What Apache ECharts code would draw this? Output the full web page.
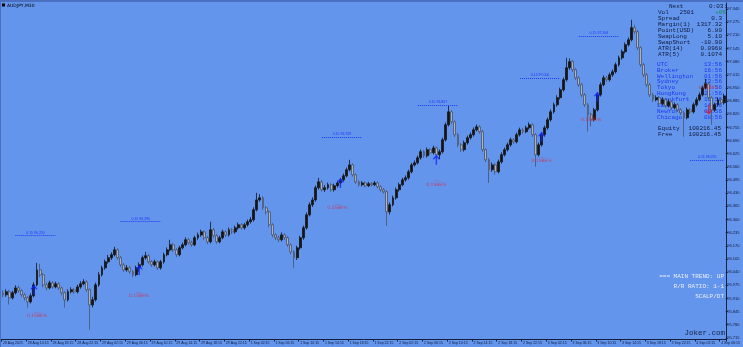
<!DOCTYPE html>
<html><head><meta charset="utf-8">
<script src="https://cdn.jsdelivr.net/npm/echarts@6/dist/echarts.min.js"></script>
<style>html,body{margin:0;padding:0;background:#6495ED;overflow:hidden}#c{width:743px;height:347px}</style>
</head><body><div id="c"></div>
<script>
// ---------- DATA ----------
const symbolTitle = 'AUDJPY,M30';
const tickLabels = ['28 Aug 2025','28 Aug 14:15','28 Aug 18:15','28 Aug 22:15','29 Aug 02:15','29 Aug 06:15','29 Aug 10:15','29 Aug 14:15','29 Aug 18:15','29 Aug 22:15','1 Sep 02:15','1 Sep 06:15','1 Sep 10:15','1 Sep 14:15','1 Sep 18:15','1 Sep 22:15','2 Sep 02:15','2 Sep 06:15','2 Sep 10:15','2 Sep 14:15','2 Sep 18:15','2 Sep 22:15','3 Sep 02:15','3 Sep 06:15','3 Sep 10:15','3 Sep 14:15','3 Sep 18:15','3 Sep 22:15','4 Sep 02:15','4 Sep 06:15'];
const barsPerLabel = 8;
const yTicks = [97.340,97.275,97.210,97.145,97.080,97.015,96.950,96.885,96.820,96.755,96.690,96.625,96.560,96.495,96.430,96.365,96.300,96.235,96.170,96.105,96.040,95.975,95.910,95.845,95.780,95.715];

const opens = [95.935,95.928,95.943,95.913,95.938,95.962,95.948,95.928,95.913,95.893,
95.923,95.977,96.051,96.027,95.977,95.962,95.987,95.967,95.982,95.962,
95.938,95.903,95.943,95.953,95.943,95.967,95.982,95.992,95.953,95.878,
95.903,95.977,96.027,96.061,96.091,96.111,96.126,96.150,96.111,96.076,
96.051,96.061,96.042,96.027,96.061,96.076,96.111,96.121,96.091,96.076,
96.091,96.061,96.091,96.126,96.150,96.175,96.150,96.126,96.160,96.175,
96.200,96.185,96.175,96.210,96.224,96.239,96.210,96.190,96.249,96.220,
96.190,96.210,96.239,96.224,96.249,96.239,96.259,96.274,96.259,96.274,
96.289,96.299,96.348,96.397,96.407,96.358,96.338,96.274,96.224,96.210,
96.200,96.224,96.210,96.175,96.140,96.111,96.160,96.210,96.259,96.323,
96.373,96.397,96.457,96.486,96.447,96.457,96.472,96.447,96.467,96.481,
96.496,96.516,96.546,96.570,96.521,96.486,96.472,96.481,96.467,96.477,
96.472,96.481,96.462,96.447,96.437,96.338,96.373,96.407,96.447,96.472,
96.496,96.506,96.536,96.570,96.580,96.605,96.635,96.615,96.645,96.630,
96.654,96.620,96.635,96.694,96.768,96.832,96.783,96.719,96.669,96.645,
96.679,96.704,96.719,96.743,96.758,96.734,96.645,96.595,96.546,96.570,
96.536,96.585,96.620,96.645,96.669,96.694,96.684,96.719,96.743,96.734,
96.753,96.768,96.719,96.620,96.669,96.719,96.753,96.793,96.832,96.867,
96.902,96.941,96.991,97.050,97.080,97.040,97.000,96.966,96.916,96.867,
96.818,96.793,96.842,96.916,96.966,97.000,96.991,97.015,97.030,97.065,
97.099,97.129,97.164,97.188,97.248,97.228,97.149,97.065,97.015,96.966,
96.916,96.892,96.902,96.872,96.892,96.862,96.882,96.852,96.867,96.842,
96.827,96.803,96.842,96.832,96.867,96.892,96.916,96.951,96.971,96.902,
96.842,96.867,96.892,96.877];

const closes = [95.928,95.943,95.913,95.938,95.962,95.948,95.928,95.913,95.893,95.923,
95.977,96.051,96.027,95.977,95.962,95.987,95.967,95.982,95.962,95.938,
95.903,95.943,95.953,95.943,95.967,95.982,95.992,95.953,95.878,95.903,
95.977,96.027,96.061,96.091,96.111,96.126,96.150,96.111,96.076,96.051,
96.061,96.042,96.027,96.061,96.076,96.111,96.121,96.091,96.076,96.091,
96.061,96.091,96.126,96.150,96.175,96.150,96.126,96.160,96.175,96.200,
96.185,96.175,96.210,96.224,96.239,96.210,96.190,96.249,96.220,96.190,
96.210,96.239,96.224,96.249,96.239,96.259,96.274,96.259,96.274,96.289,
96.299,96.348,96.397,96.407,96.358,96.338,96.274,96.224,96.210,96.200,
96.224,96.210,96.175,96.140,96.111,96.160,96.210,96.259,96.323,96.373,
96.397,96.457,96.486,96.447,96.457,96.472,96.447,96.467,96.481,96.496,
96.516,96.546,96.570,96.521,96.486,96.472,96.481,96.467,96.477,96.472,
96.481,96.462,96.447,96.437,96.338,96.373,96.407,96.447,96.472,96.496,
96.506,96.536,96.570,96.580,96.605,96.635,96.615,96.645,96.630,96.654,
96.620,96.635,96.694,96.768,96.832,96.783,96.719,96.669,96.645,96.679,
96.704,96.719,96.743,96.758,96.734,96.645,96.595,96.546,96.570,96.536,
96.585,96.620,96.645,96.669,96.694,96.684,96.719,96.743,96.734,96.753,
96.768,96.719,96.620,96.669,96.719,96.753,96.793,96.832,96.867,96.902,
96.941,96.991,97.050,97.080,97.040,97.000,96.966,96.916,96.867,96.818,
96.793,96.842,96.916,96.966,97.000,96.991,97.015,97.030,97.065,97.099,
97.129,97.164,97.188,97.248,97.228,97.149,97.065,97.015,96.966,96.916,
96.892,96.902,96.872,96.892,96.862,96.882,96.852,96.867,96.842,96.827,
96.803,96.842,96.832,96.867,96.892,96.916,96.951,96.971,96.902,96.842,
96.867,96.892,96.877,96.911];

const highs = [95.950,95.955,95.952,95.948,95.975,95.972,95.955,95.937,95.920,95.935,
95.990,96.086,96.081,96.035,95.988,95.998,95.996,95.993,95.990,95.968,
95.945,95.955,95.965,95.962,95.978,95.995,96.005,96.000,95.960,95.918,
95.988,96.040,96.072,96.102,96.125,96.138,96.165,96.158,96.120,96.085,
96.075,96.070,96.050,96.072,96.088,96.122,96.140,96.130,96.100,96.102,
96.098,96.100,96.136,96.162,96.200,96.185,96.158,96.170,96.186,96.212,
96.208,96.195,96.220,96.235,96.250,96.246,96.218,96.289,96.258,96.228,
96.220,96.250,96.246,96.260,96.258,96.270,96.285,96.282,96.284,96.300,
96.312,96.360,96.432,96.425,96.415,96.366,96.345,96.282,96.232,96.220,
96.236,96.232,96.218,96.182,96.148,96.170,96.220,96.270,96.335,96.385,
96.410,96.468,96.506,96.495,96.470,96.482,96.480,96.477,96.492,96.506,
96.527,96.557,96.595,96.578,96.528,96.494,96.490,96.488,96.486,96.485,
96.490,96.488,96.470,96.455,96.444,96.385,96.418,96.458,96.482,96.506,
96.518,96.546,96.580,96.592,96.616,96.646,96.643,96.656,96.652,96.665,
96.660,96.646,96.705,96.780,96.862,96.840,96.790,96.728,96.678,96.690,
96.715,96.730,96.755,96.770,96.766,96.742,96.652,96.604,96.582,96.578,
96.596,96.632,96.656,96.680,96.705,96.702,96.730,96.754,96.752,96.764,
96.780,96.776,96.726,96.680,96.730,96.764,96.804,96.844,96.878,96.914,
96.952,97.002,97.099,97.096,97.088,97.048,97.008,96.975,96.925,96.876,
96.828,96.852,96.928,96.978,97.012,97.010,97.026,97.042,97.076,97.110,
97.140,97.175,97.200,97.287,97.262,97.236,97.156,97.074,97.024,96.975,
96.926,96.914,96.910,96.904,96.900,96.894,96.890,96.878,96.875,96.850,
96.836,96.854,96.850,96.878,96.904,96.928,96.962,96.995,96.980,96.910,
96.878,96.904,96.900,96.922];

const lows = [95.915,95.918,95.880,95.905,95.930,95.938,95.918,95.900,95.864,95.885,
95.915,95.970,96.015,95.965,95.950,95.955,95.958,95.960,95.952,95.925,
95.864,95.895,95.935,95.933,95.935,95.958,95.975,95.943,95.755,95.865,
95.895,95.968,96.018,96.052,96.082,96.100,96.118,96.102,96.065,96.040,
96.042,96.032,96.015,96.020,96.042,96.068,96.102,96.082,96.066,96.068,
96.050,96.052,96.082,96.118,96.142,96.140,96.115,96.118,96.152,96.168,
96.175,96.165,96.168,96.200,96.215,96.200,96.178,96.182,96.210,96.180,
96.182,96.202,96.214,96.216,96.228,96.230,96.250,96.250,96.250,96.265,
96.280,96.290,96.340,96.388,96.348,96.325,96.262,96.212,96.198,96.188,
96.192,96.198,96.165,96.128,96.061,96.100,96.150,96.200,96.250,96.315,
96.362,96.388,96.448,96.438,96.436,96.448,96.437,96.438,96.458,96.472,
96.488,96.508,96.538,96.512,96.476,96.462,96.464,96.458,96.460,96.463,
96.465,96.453,96.438,96.428,96.269,96.325,96.365,96.398,96.438,96.464,
96.487,96.497,96.528,96.562,96.572,96.596,96.605,96.606,96.620,96.622,
96.608,96.598,96.626,96.685,96.760,96.772,96.708,96.658,96.634,96.636,
96.670,96.695,96.710,96.735,96.724,96.634,96.584,96.481,96.536,96.522,
96.528,96.576,96.612,96.636,96.660,96.674,96.676,96.710,96.724,96.726,
96.744,96.708,96.561,96.612,96.660,96.710,96.744,96.784,96.824,96.858,
96.893,96.932,96.982,97.040,97.030,96.990,96.955,96.905,96.856,96.734,
96.760,96.785,96.834,96.908,96.958,96.980,96.982,97.005,97.022,97.056,
97.090,97.120,97.155,97.180,97.218,97.138,97.054,97.004,96.955,96.905,
96.880,96.884,96.862,96.864,96.852,96.854,96.842,96.844,96.832,96.816,
96.709,96.795,96.822,96.824,96.858,96.884,96.908,96.942,96.890,96.768,
96.832,96.858,96.866,96.868];

const levelFrom  = [4, 38, 103, 134, 167, 186, 222];
const levelTo    = [17, 51, 116, 147, 180, 199, 233];
const levelPrice = [96.220, 96.290, 96.709, 96.867, 97.000, 97.208, 96.595];
const upArrowBar   = [10, 44, 109, 140, 174, 192];
const upArrowPrice = [95.953, 96.051, 96.481, 96.595, 96.709, 96.907];
const downArrowBar = [228];
const downArrowPrice = [96.842];
const tagBar   = [11, 44, 108, 140, 174, 190, 228];
const tagPrice = [95.829, 95.928, 96.363, 96.481, 96.595, 96.798, 96.956];
const tagText  = ['0.15BE%','0.15BE%','0.15BE%','0.15BE%','0.15BE%','0.15BE%','0.15BE%'];

const infoRows = [['Spread','0.3'],['Margin(1)','1317.32'],['Point(USD)','6.80'],['SwapLong','5.10'],['SwapShort','-10.90'],['ATR(14)','0.0968'],['ATR(5)','0.1074']];
const nextRow = ['Next','0:03:'];
const volRow = ['Vol','2501','+0%'];
const clockRows = [['UTC','13:56'],['Broker','16:56'],['Wellington','01:56'],['Sydney','23:56'],['Tokyo','22:56'],['HongKong','21:56'],['Frankfurt','15:56'],['London','14:56'],['NewYork','09:56'],['Chicago','08:56']];
const accountRows = [['Equity','100216.45'],['Free','100216.45']];
const noteRows = ['=== MAIN TREND: UP','R/R RATIO: 1-1','SCALP/DT'];
const brand = 'Joker.com';

// ---------- BUILD ----------
const N = closes.length;
const categories = [];
const ohlc = [];
for (let i = 0; i < N; i++) {
  categories.push(i % barsPerLabel === 0 ? (tickLabels[i / barsPerLabel] || '') : '');
  ohlc.push([opens[i], closes[i], lows[i], highs[i]]);
}
const dark = '#0f1a38';
const blue = '#1a38f5';
const CW = 0.6;
const g = [];
function txt(t, x, y, color, anchor, size) {
  const fs = size || 6;
  const left = anchor === 'right' ? x - t.length * fs * CW : x;
  g.push({type: 'text', z: 1, silent: true,
    style: {text: t, x: left, y: y - fs / 2, fill: color, fontSize: fs, fontFamily: 'Liberation Mono'}});
}
g.push({type: 'rect', z: 1, silent: true, shape: {x: 0, y: 0, width: 743, height: 2}, style: {fill: '#4b70c2'}});
g.push({type: 'rect', z: 1, silent: true, shape: {x: 0, y: 0, width: 1, height: 347}, style: {fill: '#4b70c2'}});
g.push({type: 'rect', z: 1, silent: true, shape: {x: 2, y: 3.5, width: 3, height: 3}, style: {fill: '#000'}});
g.push({type: 'text', z: 1, silent: true, style: {text: symbolTitle, x: 7, y: 3, fill: '#000', fontSize: 4.5, fontFamily: 'DejaVu Sans'}});
txt(nextRow[0], 669, 6, dark, 'left');
txt(nextRow[1], 727, 6, dark, 'right');
txt(volRow[0], 658, 12, dark, 'left');
txt(volRow[1], 694, 12, dark, 'right');
txt(volRow[2], 726, 12, '#0f8a48', 'right');
infoRows.forEach((r, k) => {
  const y = 18.2 + k * 6.1;
  txt(r[0], 658, y, dark, 'left');
  txt(r[1], 722, y, dark, 'right');
});
clockRows.forEach((r, k) => {
  const y = 64.3 + k * 5.85;
  txt(r[0], 657, y, blue, 'left');
  txt(r[1], 722, y, blue, 'right');
});
accountRows.forEach((r, k) => {
  const y = 128.3 + k * 6;
  txt(r[0], 658, y, dark, 'left');
  txt(r[1], 721, y, dark, 'right');
});
noteRows.forEach((t, k) => {
  txt(t, 724, 276.5 + k * 10.2, '#e8edf6', 'right');
});
txt(brand, 725, 333, '#152040', 'right', 7.5);

const chart = echarts.init(document.getElementById('c'), null, {renderer: 'canvas'});
chart.setOption({
  animation: false,
  backgroundColor: '#6495ED',
  grid: {left: 0, right: 15, top: 3, bottom: 7.5, containLabel: false},
  xAxis: {
    type: 'category', data: categories, boundaryGap: true,
    axisLine: {show: true, lineStyle: {color: '#14203e', width: 1}},
    axisTick: {show: true, interval: (i) => i % barsPerLabel === 0, length: 2, lineStyle: {color: '#14203e'}},
    axisLabel: {show: true, interval: (i) => i % barsPerLabel === 0, align: 'left', fontSize: 3.5, color: dark, margin: 1.8, fontFamily: 'Liberation Sans'},
    splitLine: {show: false}
  },
  yAxis: {
    type: 'value', position: 'right', min: 95.707, max: 97.370, scale: true,
    axisLine: {show: true, lineStyle: {color: '#14203e', width: 1}},
    axisTick: {show: true, customValues: yTicks, length: 2, lineStyle: {color: '#14203e'}},
    axisLabel: {show: true, customValues: yTicks, formatter: (v) => Number(v).toFixed(3), fontSize: 4, color: dark, margin: 1.5, fontFamily: 'Liberation Sans'},
    splitLine: {show: false}
  },
  graphic: {elements: g},
  series: [
    {
      type: 'candlestick', data: ohlc, barWidth: 2.4, z: 3,
      itemStyle: {color: '#151515', color0: '#a9b3c4', borderColor: '#151515', borderColor0: '#4a5367', borderWidth: 0.8},
      markLine: {
        silent: true, symbol: ['none', 'none'], animation: false,
        data: levelPrice.map((p, k) => [
          {coord: [levelFrom[k], p], lineStyle: {color: '#1a38f5', type: [1, 1], width: 1},
           label: {show: true, position: 'middle', formatter: '0.15 ' + p.toFixed(3), fontSize: 3.5, color: '#1a38f5', distance: 1}},
          {coord: [levelTo[k], p]}
        ]).concat([[{coord: [N - 1, closes[N - 1]], lineStyle: {width: 0, opacity: 0},
           label: {show: true, position: 'end', formatter: closes[N - 1].toFixed(3), backgroundColor: '#000', color: '#fff', fontSize: 4, padding: [1, 1], distance: 2}},
          {coord: [N - 1, closes[N - 1]]}]])
      }
    },
    {
      type: 'scatter', z: 5, silent: true,
      symbol: 'path://M4 0 L8 4.4 L6.9 5.4 L4.8 3.1 L4.8 11 L3.2 11 L3.2 3.1 L1.1 5.4 L0 4.4 Z',
      symbolSize: [7, 10], itemStyle: {color: '#1028ff'},
      data: upArrowBar.map((b, k) => [b, upArrowPrice[k]])
    },
    {
      type: 'scatter', z: 5, silent: true,
      symbol: 'path://M4 11 L8 6.6 L6.9 5.6 L4.8 7.9 L4.8 0 L3.2 0 L3.2 7.9 L1.1 5.6 L0 6.6 Z',
      symbolSize: [7, 10], itemStyle: {color: '#e01828'},
      data: downArrowBar.map((b, k) => [b, downArrowPrice[k]])
    },
    {
      type: 'scatter', z: 4, silent: true, symbolSize: 0,
      data: tagBar.map((b, k) => ({value: [b, tagPrice[k]], name: tagText[k]})),
      label: {show: true, position: 'inside', formatter: (p) => '{a|------}\n{b|' + p.name + '}',
        rich: {a: {fontSize: 3, color: '#d8283c', lineHeight: 3, fontFamily: 'DejaVu Sans'}, b: {fontSize: 4.5, color: '#d8283c', lineHeight: 5, fontFamily: 'DejaVu Sans'}}}
    }
  ]
});
</script></body></html>
